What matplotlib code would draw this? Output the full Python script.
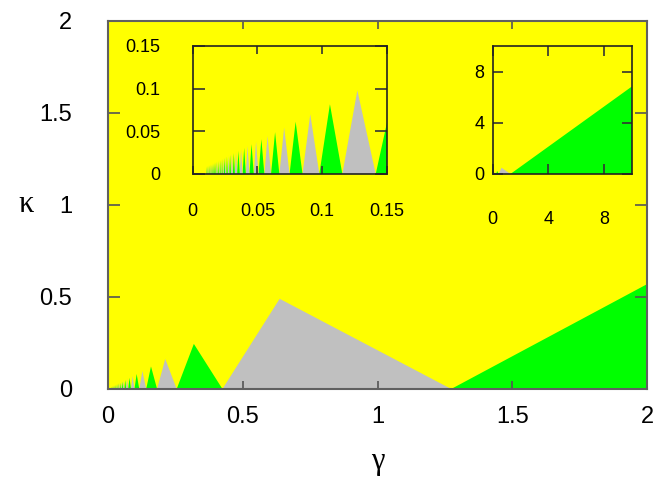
import matplotlib
matplotlib.use('Agg')
import matplotlib.pyplot as plt

# base edges of the triangles (right edge of triangle n = edge n-1, left edge = edge n)
edges = [1.2732, 0.4244, 0.2546, 0.1819, 0.1415, 0.1157, 0.0979, 0.0849, 0.0749, 0.0670,
         0.0606, 0.0554, 0.0509, 0.0472, 0.0439, 0.0411, 0.0386, 0.0364, 0.0344, 0.0326,
         0.0311, 0.0296, 0.0283, 0.0271, 0.0260, 0.0250, 0.0240, 0.0231, 0.0223, 0.0216,
         0.0209, 0.0202, 0.0196, 0.0190, 0.0185, 0.0179, 0.0174, 0.0170, 0.0165, 0.0161,
         0.0157, 0.01534, 0.01498, 0.01463, 0.01431, 0.01399, 0.01369, 0.01340, 0.01313,
         0.01286, 0.01261, 0.01236, 0.01213, 0.01190, 0.01168, 0.01147, 0.01127, 0.01107,
         0.01088, 0.01070, 0.01052]
# apex of each triangle
apex_x = [0.6366, 0.3183, 0.2122, 0.1592, 0.1273, 0.1061, 0.0909, 0.0796, 0.0707, 0.0637,
          0.0579, 0.0531, 0.0490, 0.0455, 0.0424, 0.0398, 0.0374, 0.0354, 0.0335, 0.0318,
          0.0303, 0.0289, 0.0277, 0.0265, 0.0255, 0.0245, 0.0236, 0.0227, 0.0220, 0.0212,
          0.0205, 0.0199, 0.0193, 0.0187, 0.0182, 0.0177, 0.0172, 0.0168, 0.0163, 0.0159,
          0.01553, 0.01516, 0.01480, 0.01447, 0.01415, 0.01384, 0.01354, 0.01326, 0.01299,
          0.01273, 0.01248, 0.01224, 0.01201, 0.01179, 0.01157, 0.01137, 0.01117, 0.01098,
          0.01079, 0.01061]
apex_y = [0.490, 0.245, 0.1633, 0.1225, 0.098, 0.0817, 0.070, 0.0613, 0.0544, 0.049,
          0.0445, 0.0408, 0.0377, 0.035, 0.0327, 0.0306, 0.0288, 0.0272, 0.0258, 0.0245,
          0.0233, 0.0223, 0.0213, 0.0204, 0.0196, 0.0188, 0.0181, 0.0175, 0.0169, 0.0163,
          0.0158, 0.0153, 0.0148, 0.0144, 0.0140, 0.0136, 0.0132, 0.0129, 0.0126, 0.0123,
          0.01195, 0.01167, 0.01140, 0.01114, 0.01089, 0.01065, 0.01043, 0.01021, 0.01000,
          0.00980, 0.00961, 0.00942, 0.00925, 0.00907, 0.00891, 0.00875, 0.00860, 0.00845,
          0.00831, 0.00817]
# open green region on the right: starts at edge 0 and rises
wedge_x = [1.2732, 10.0, 10.0]
wedge_y = [0.0, 6.84, 0.0]

YELLOW = '#ffff00'
GREEN = '#00ff00'
GREY = '#c0c0c0'

plt.rcParams['font.family'] = ['Liberation Sans', 'DejaVu Sans']


def draw_regions(ax):
    ax.set_facecolor(YELLOW)
    ax.fill(wedge_x, wedge_y, color=GREEN, lw=0)
    for i in range(len(apex_x)):
        col = GREY if i % 2 == 0 else GREEN
        ax.fill([edges[i + 1], apex_x[i], edges[i]], [0, apex_y[i], 0], color=col, lw=0)


fig = plt.figure(figsize=(6.63, 4.94), dpi=100)

ax = fig.add_axes([0.163, 0.2126, 0.813, 0.745])
draw_regions(ax)
ax.set_xlim(0, 2)
ax.set_ylim(0, 2)
ax.set_xticks([0, 0.5, 1, 1.5, 2])
ax.set_xticklabels(['0', '0.5', '1', '1.5', '2'])
ax.set_yticks([0, 0.5, 1, 1.5, 2])
ax.set_yticklabels(['0', '0.5', '1', '1.5', '2'])
ax.tick_params(axis='both', direction='in', top=True, right=True, labelsize=17,
               color='#555555', width=1.2)
ax.tick_params(axis='x', length=6, pad=12)
ax.tick_params(axis='y', length=8.5, pad=26)
for s in ax.spines.values():
    s.set_color('#606060')
    s.set_linewidth(1.5)
ax.set_xlabel('γ', family=['Liberation Serif', 'DejaVu Serif'], fontsize=22, labelpad=14)
ax.set_ylabel('κ', family=['Liberation Serif', 'DejaVu Serif'], fontsize=22, rotation=0,
              va='center', ha='center')
ax.yaxis.set_label_coords(-0.152, 0.5)

# inset: zoom near the origin
ax1 = fig.add_axes([0.2906, 0.6478, 0.2927, 0.2591])
draw_regions(ax1)
ax1.set_xlim(0, 0.15)
ax1.set_ylim(0, 0.15)
ax1.set_xticks([0, 0.05, 0.1, 0.15])
ax1.set_xticklabels(['0', '0.05', '0.1', '0.15'])
ax1.set_yticks([0, 0.05, 0.1, 0.15])
ax1.set_yticklabels(['0', '0.05', '0.1', '0.15'])
ax1.tick_params(axis='both', direction='in', top=True, right=True, labelsize=13,
                color='#333333', width=1.2)
ax1.tick_params(axis='x', length=6, pad=21)
ax1.tick_params(axis='y', length=8.5, pad=23)

# inset: large gamma
ax2 = fig.add_axes([0.7431, 0.6478, 0.2101, 0.2591])
draw_regions(ax2)
ax2.set_xlim(0, 10)
ax2.set_ylim(0, 10)
ax2.set_xticks([0, 4, 8])
ax2.set_yticks([0, 4, 8])
ax2.tick_params(axis='both', direction='in', top=True, right=True, labelsize=13,
                color='#333333', width=1.2, length=7)
ax2.tick_params(axis='x', pad=27)
ax2.tick_params(axis='y', pad=6)

for a in (ax1, ax2):
    for s in a.spines.values():
        s.set_color('#222222')
        s.set_linewidth(1.2)

fig.savefig('out.png', dpi=100)
